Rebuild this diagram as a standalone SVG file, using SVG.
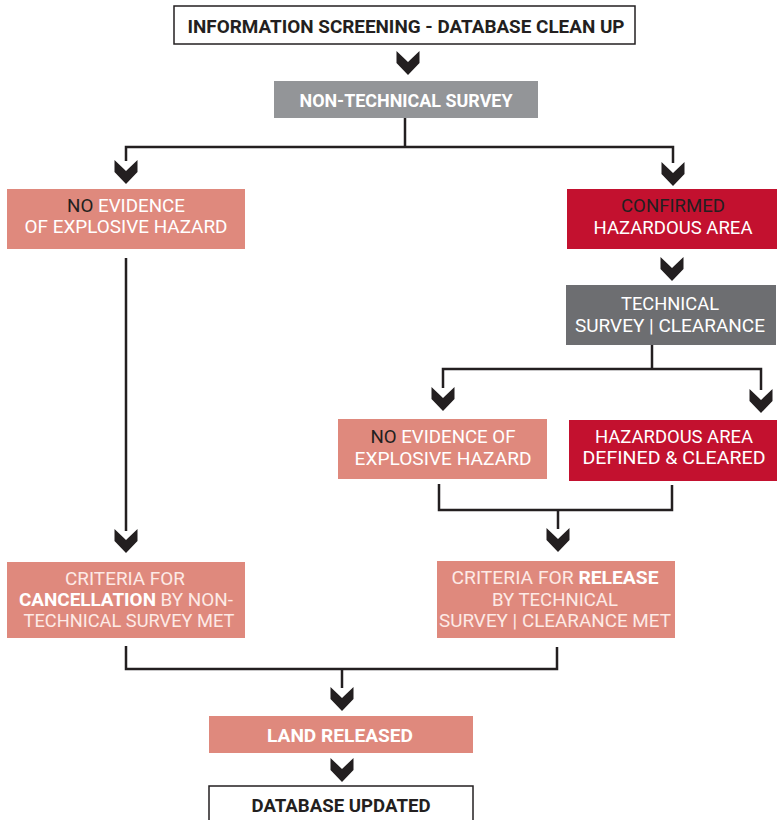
<svg xmlns="http://www.w3.org/2000/svg" xmlns:xlink="http://www.w3.org/1999/xlink" width="777" height="820" viewBox="0 0 777 820">
<style>
.t{font-family:Roboto,"Liberation Sans",sans-serif;font-size:17.5px;text-anchor:middle;fill:#ffffff}
.b{font-weight:bold;font-size:18px}
.dk{fill:#231F20}
.lt{fill:#FDEAE6}
.salmon{fill:#DF897D}
.crimson{fill:#C3112F}
.white{fill:#ffffff;stroke:#231F20;stroke-width:1.5}
.conn path{fill:none;stroke:#231F20;stroke-width:2.5}
.chev{fill:#231F20}
</style>
<defs>
<path id="chev" d="M-11.5,0 L0,11 L11.5,0 L11.5,12 L0,24 L-11.5,12 Z"/>
</defs>
<rect width="777" height="820" fill="#ffffff"/>

<g class="conn" id="connectors">
<path d="M405,118 V147"/>
<path d="M126,161 V147 H673 V163"/>
<path d="M126,258 V531"/>
<path d="M652,345 V369"/>
<path d="M443,388 V369 H761 V390"/>
<path d="M439,484 V510 H672 V485"/>
<path d="M558,510 V529"/>
<path d="M126,646 V669 H557 V647"/>
<path d="M342,669 V688"/>
<g class="chev">
<use xlink:href="#chev" x="408" y="51"/>
<use xlink:href="#chev" x="126" y="160"/>
<use xlink:href="#chev" x="673" y="162"/>
<use xlink:href="#chev" x="672" y="257"/>
<use xlink:href="#chev" x="443" y="387"/>
<use xlink:href="#chev" x="761" y="389"/>
<use xlink:href="#chev" x="558" y="528"/>
<use xlink:href="#chev" x="126" y="529"/>
<use xlink:href="#chev" x="342" y="687"/>
<use xlink:href="#chev" x="342" y="758"/>
</g>
</g>

<g id="info-screening">
<rect class="white" x="174" y="6" width="461" height="38"/>
<text class="t b dk" x="406" y="33" textLength="437" lengthAdjust="spacingAndGlyphs">INFORMATION SCREENING - DATABASE CLEAN UP</text>
</g>

<g id="non-technical-survey">
<rect x="274" y="81" width="264" height="37" fill="#939598"/>
<text class="t b" x="406" y="107" textLength="213" lengthAdjust="spacingAndGlyphs">NON-TECHNICAL SURVEY</text>
</g>

<g id="no-evidence-left">
<rect class="salmon" x="7" y="189" width="238" height="60"/>
<text class="t" x="126" y="212" textLength="118" lengthAdjust="spacingAndGlyphs"><tspan class="dk">NO</tspan> EVIDENCE</text>
<text class="t" x="126" y="233" textLength="203" lengthAdjust="spacingAndGlyphs">OF EXPLOSIVE HAZARD</text>
</g>

<g id="confirmed-hazardous-area">
<rect class="crimson" x="567" y="189" width="210" height="60"/>
<text class="t dk" x="673" y="212" textLength="104" lengthAdjust="spacingAndGlyphs">CONFIRMED</text>
<text class="t" x="673" y="234" textLength="159" lengthAdjust="spacingAndGlyphs">HAZARDOUS AREA</text>
</g>

<g id="technical-survey">
<rect x="566" y="285" width="210" height="60" fill="#6D6E71"/>
<text class="t" x="670" y="310" textLength="98" lengthAdjust="spacingAndGlyphs">TECHNICAL</text>
<text class="t" x="670" y="332" textLength="190" lengthAdjust="spacingAndGlyphs">SURVEY | CLEARANCE</text>
</g>

<g id="no-evidence-right">
<rect class="salmon" x="338" y="419" width="209" height="60"/>
<text class="t" x="443" y="443" textLength="145" lengthAdjust="spacingAndGlyphs"><tspan class="dk">NO</tspan> EVIDENCE OF</text>
<text class="t" x="443" y="465" textLength="177" lengthAdjust="spacingAndGlyphs">EXPLOSIVE HAZARD</text>
</g>

<g id="hazardous-defined-cleared">
<rect class="crimson" x="569" y="420" width="208" height="61"/>
<text class="t" x="674" y="443" textLength="158" lengthAdjust="spacingAndGlyphs">HAZARDOUS AREA</text>
<text class="t" x="674" y="464" textLength="183" lengthAdjust="spacingAndGlyphs">DEFINED &amp; CLEARED</text>
</g>

<g id="criteria-cancellation">
<rect class="salmon" x="7" y="562" width="238" height="76"/>
<text class="t lt" x="125" y="585" textLength="120" lengthAdjust="spacingAndGlyphs">CRITERIA FOR</text>
<text class="t lt" x="126" y="606" textLength="214" lengthAdjust="spacingAndGlyphs"><tspan font-weight="bold" fill="#ffffff">CANCELLATION</tspan> BY NON-</text>
<text class="t lt" x="129" y="627" textLength="211" lengthAdjust="spacingAndGlyphs">TECHNICAL SURVEY MET</text>
</g>

<g id="criteria-release">
<rect class="salmon" x="437" y="561" width="238" height="77"/>
<text class="t lt" x="555" y="584" textLength="207" lengthAdjust="spacingAndGlyphs">CRITERIA FOR <tspan font-weight="bold" fill="#ffffff">RELEASE</tspan></text>
<text class="t lt" x="555" y="606" textLength="126" lengthAdjust="spacingAndGlyphs">BY TECHNICAL</text>
<text class="t lt" x="555" y="627" textLength="232" lengthAdjust="spacingAndGlyphs">SURVEY | CLEARANCE MET</text>
</g>

<g id="land-released">
<rect class="salmon" x="209" y="716" width="264" height="37"/>
<text class="t b" x="340" y="742" textLength="146" lengthAdjust="spacingAndGlyphs">LAND RELEASED</text>
</g>

<g id="database-updated">
<rect class="white" x="209" y="786" width="264" height="40"/>
<text class="t b dk" x="341" y="812" textLength="179" lengthAdjust="spacingAndGlyphs">DATABASE UPDATED</text>
</g>
</svg>
